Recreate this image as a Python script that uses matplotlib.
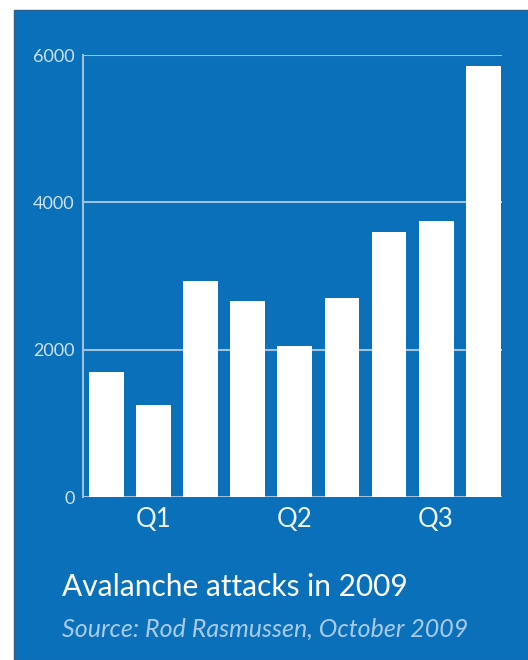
import matplotlib.pyplot as plt
from matplotlib.patches import Rectangle

# Datos (ataques por mes, 2009)
valores = [1700, 1250, 2930, 2660, 2050, 2700, 3600, 3750, 5850]
trimestres = ['Q1', 'Q2', 'Q3']
pos_trimestres = [1, 4, 7]
ticks_y = [0, 2000, 4000, 6000]

azul = '#0a70b9'
linea = '#9cc2e3'

fig = plt.figure(figsize=(5.28, 6.6), dpi=100)
fig.patch.set_facecolor('white')
# Panel azul de fondo (por debajo de los ejes)
fig.patches.append(Rectangle((14 / 528, 0), 1 - 14 / 528, 1 - 10 / 660,
                             transform=fig.transFigure, facecolor=azul,
                             edgecolor='#2a5f8f', linewidth=1, zorder=-1))

ax = fig.add_axes([83 / 528, 1 - 497 / 660, (502 - 83) / 528, (497 - 55) / 660])
ax.set_facecolor('none')
ax.set_zorder(2)

x = list(range(len(valores)))
ax.bar(x, valores, width=0.74, color='white', zorder=3)

ax.set_xlim(-0.5, 8.4)
ax.set_ylim(0, 6000)

# Lineas de referencia horizontales
for y in ticks_y:
    ax.axhline(y, color=linea, linewidth=1.5, zorder=2)

for s in ['top', 'right', 'bottom']:
    ax.spines[s].set_visible(False)
ax.spines['left'].set_color(linea)
ax.spines['left'].set_linewidth(1.5)

ax.set_yticks(ticks_y)
ax.set_yticklabels([str(v) for v in ticks_y], fontsize=13, color='#cfe2f3',
                   family='Lato')
ax.tick_params(axis='y', length=0, pad=6)
ax.set_xticks(pos_trimestres)
ax.set_xticklabels(trimestres, fontsize=18.5, color='#eef5fb', family='Lato')
ax.tick_params(axis='x', length=0, pad=7)

fig.text(62 / 528, 1 - 587 / 660, 'Avalanche attacks in 2009', fontsize=21.5,
         color='white', family='Lato', va='center', ha='left')
fig.text(62 / 528, 1 - 629 / 660, 'Source: Rod Rasmussen, October 2009',
         fontsize=18, color='#a9cbea', family='Lato', style='italic',
         va='center', ha='left')

fig.savefig('out.png', dpi=100, facecolor=fig.get_facecolor())
